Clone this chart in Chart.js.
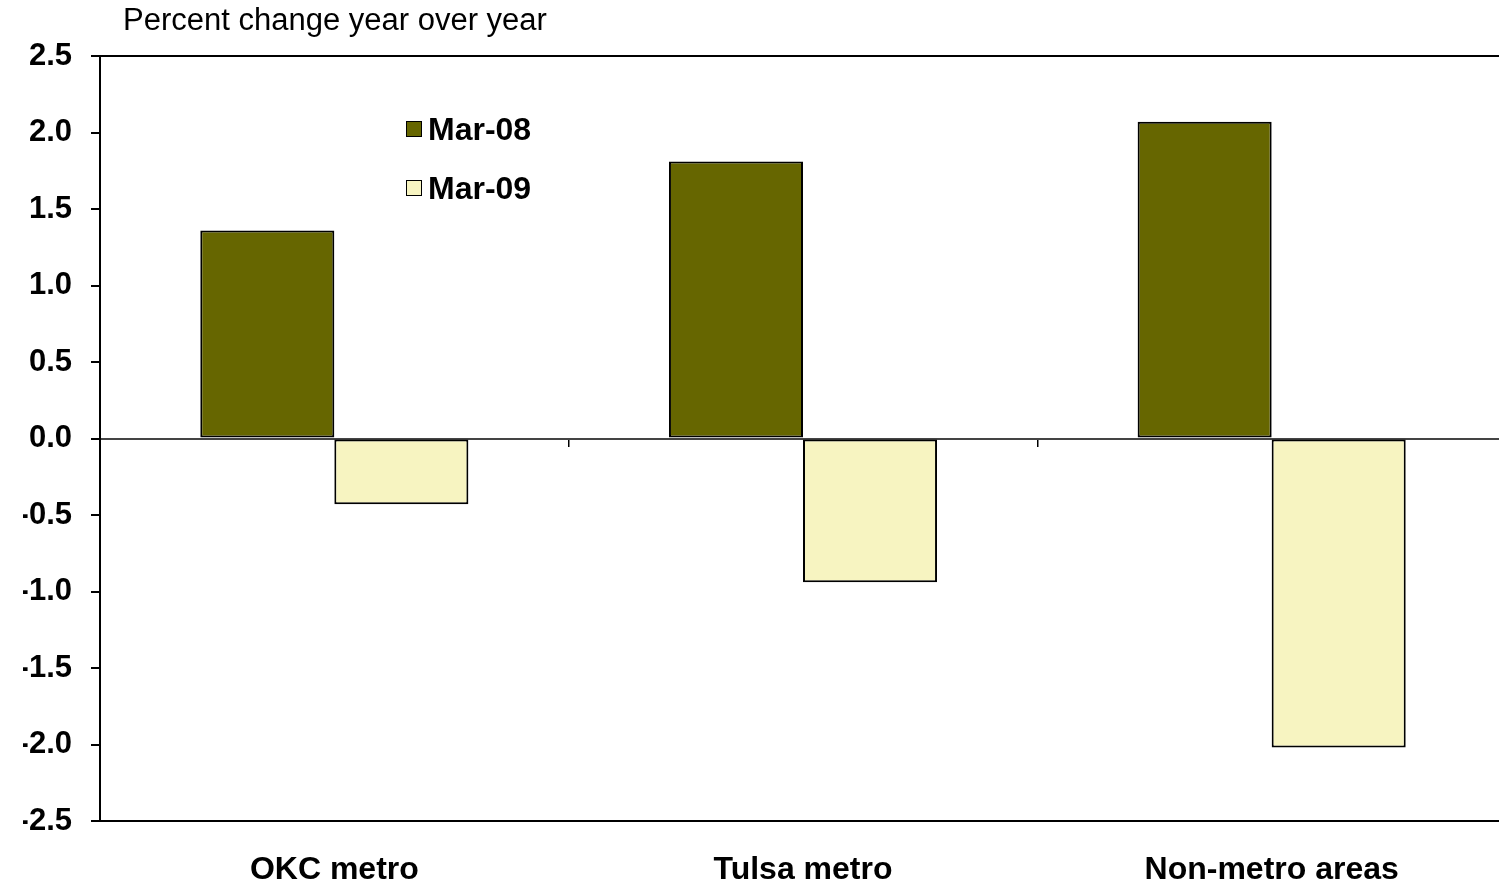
<!DOCTYPE html>
<html>
<head>
<meta charset="utf-8">
<script src="https://cdn.jsdelivr.net/npm/chart.js@4.4.1/dist/chart.umd.min.js"></script>
<style>
  html, body { margin: 0; padding: 0; overflow: hidden; background: #fff; width: 1499px; height: 882px; }
  #wrap { position: absolute; left: 0; top: 0; width: 1506px; height: 882px; }
  #title { position: absolute; left: 123px; top: 5px; font: 31px "Liberation Sans", Arial, sans-serif; line-height: 30px; color: #000; white-space: nowrap; }
  #legend { position: absolute; left: 406px; top: 0; font: bold 32px "Liberation Sans", Arial, sans-serif; color: #000; }
  .item { position: absolute; left: 0; display: flex; align-items: center; height: 34px; white-space: nowrap; }
  .sw { width: 14px; height: 14px; border: 1.5px solid #000; margin-right: 6px; }
</style>
</head>
<body>
<div id="wrap"><canvas id="c"></canvas></div>
<div id="title">Percent change year over year</div>
<div id="legend"></div>
<script>
// Employment growth by area, percent change year over year
const categories = ['OKC metro', 'Tulsa metro', 'Non-metro areas'];
const seriesNames = ['Mar-08', 'Mar-09'];
const mar08 = [1.36, 1.81, 2.07];
const mar09 = [-0.43, -0.94, -2.02];
const yMin = -2.5;
const yMax = 2.5;
const yStep = 0.5;

const seriesColors = ['#666600', '#F7F4C1'];
const FONT = '"Liberation Sans", Arial, sans-serif';

const chart = new Chart(document.getElementById('c'), {
  type: 'bar',
  data: {
    labels: categories,
    datasets: [
      { label: seriesNames[0], data: mar08, backgroundColor: seriesColors[0], borderColor: '#000', borderWidth: 2, borderSkipped: false },
      { label: seriesNames[1], data: mar09, backgroundColor: seriesColors[1], borderColor: '#000', borderWidth: 2, borderSkipped: false }
    ]
  },
  options: {
    responsive: true,
    maintainAspectRatio: false,
    animation: false,
    events: [],
    layout: { padding: { left: 23, top: 56, right: 0, bottom: 0 } },
    datasets: { bar: { categoryPercentage: 0.572, barPercentage: 1 } },
    plugins: {
      legend: { display: false },
      title: { display: false },
      tooltip: { enabled: false }
    },
    scales: {
      x: {
        position: 'bottom',
        grid: { display: false, drawTicks: false },
        border: { display: false },
        ticks: { color: '#000', padding: 30, font: { family: FONT, size: 32, weight: 'bold' }, maxRotation: 0 },
        afterFit(s) { s.height = 61; }
      },
      x2: {
        axis: 'x',
        type: 'category',
        position: { y: 0 },
        grid: { offset: true, drawOnChartArea: false, tickLength: 8, color: '#000', lineWidth: 1.5 },
        border: { display: false },
        ticks: { display: false }
      },
      y: {
        min: yMin,
        max: yMax,
        ticks: {
          stepSize: yStep,
          color: '#000',
          padding: 19,
          font: { family: FONT, size: 31, weight: 'bold' },
          callback: v => Number(v).toFixed(1)
        },
        grid: {
          drawOnChartArea: true,
          color: c => {
            const v = c.tick ? c.tick.value : null;
            if (v === yMax || v === yMin) return '#000';
            if (v === 0) return '#444';
            return 'rgba(0,0,0,0)';
          },
          lineWidth: 2,
          tickColor: '#000',
          tickLength: 9,
          tickWidth: 2
        },
        border: { color: '#000', width: 2 },
        afterFit(s) { s.width = 77; }
      }
    }
  }
});

// Legend built from the dataset labels and colours
const legendEl = document.getElementById('legend');
chart.data.datasets.forEach((ds, i) => {
  const item = document.createElement('div');
  item.className = 'item';
  item.style.top = (112 + 59 * i) + 'px';
  const sw = document.createElement('span');
  sw.className = 'sw';
  sw.style.background = ds.backgroundColor;
  const txt = document.createElement('span');
  txt.textContent = ds.label;
  item.appendChild(sw);
  item.appendChild(txt);
  legendEl.appendChild(item);
});
</script>
</body>
</html>
